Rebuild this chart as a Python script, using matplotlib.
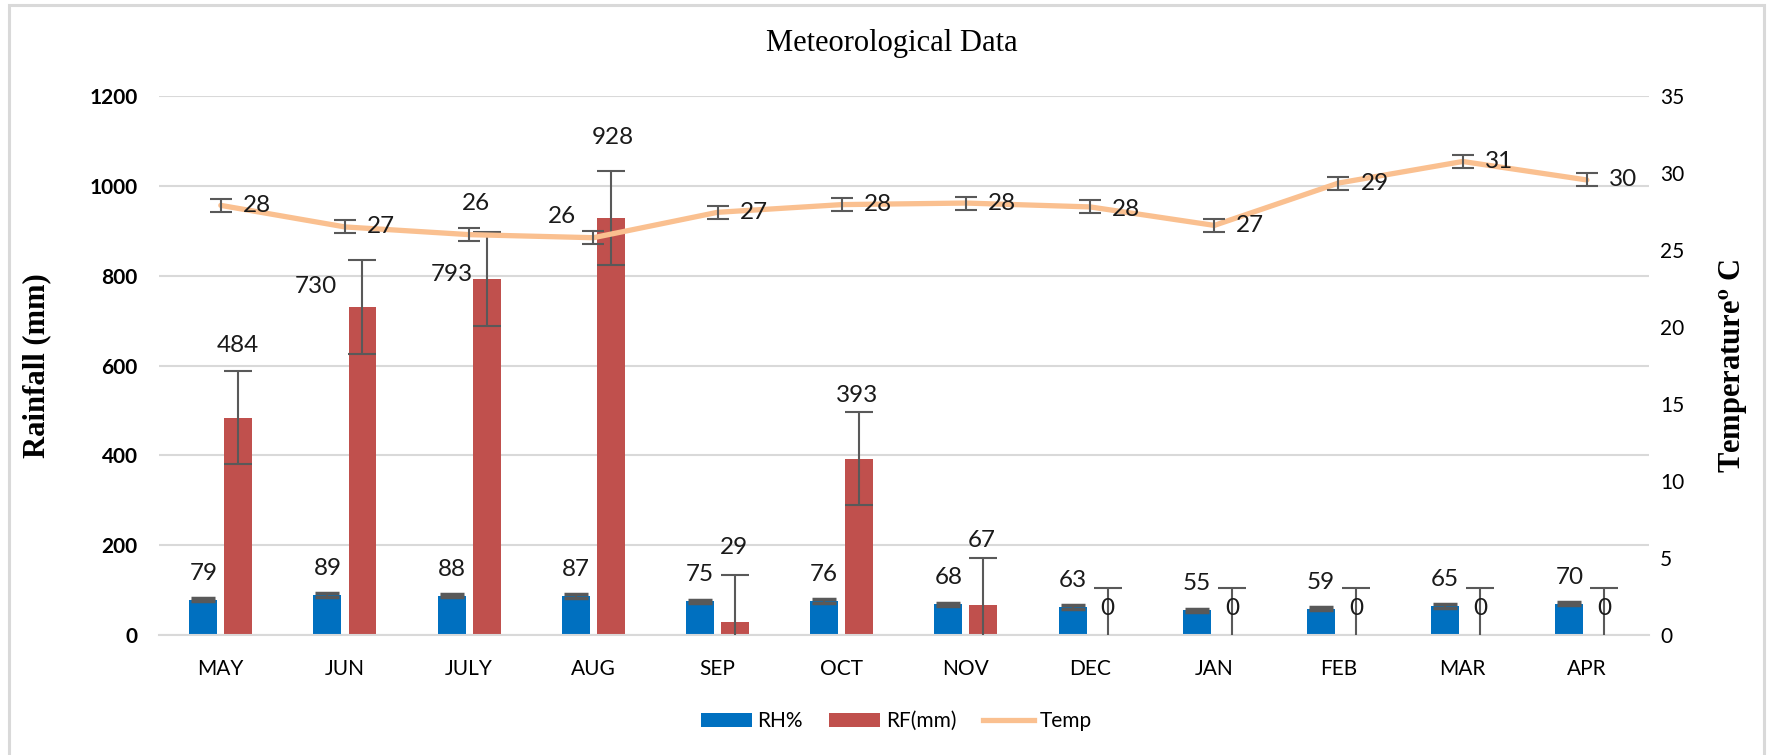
import numpy as np
import matplotlib
matplotlib.use("Agg")
import matplotlib.pyplot as plt
from matplotlib.patches import Rectangle
from matplotlib.lines import Line2D
from matplotlib.patches import Patch

months = ["MAY", "JUN", "JULY", "AUG", "SEP", "OCT", "NOV", "DEC", "JAN", "FEB", "MAR", "APR"]
rh = [79, 89, 88, 87, 75, 76, 68, 63, 55, 59, 65, 70]
rf = [484, 730, 793, 928, 29, 393, 67, 0, 0, 0, 0, 0]
temp = [27.9, 26.5, 26.0, 25.8, 27.45, 27.95, 28.05, 27.8, 26.6, 29.35, 30.75, 29.55]
rh_err = 4
rf_err = 104
temp_err = 0.42

# label offsets in pixels (dx, dy up), dpi=100
rf_off = [(0, 72), (-47, 21), (-35, 4), (2, 81), (-1, 75), (-2, 63), (-2, 64),
          (0, 27), (0, 27), (0, 27), (0, 27), (0, 27)]
temp_off = [(36, 0), (36, 0), (7, 31), (-31, 21), (36, 0), (36, 0), (36, 0),
            (36, -3), (36, 0), (36, 0), (36, 0), (36, 0)]

blue = "#0070C0"
red = "#C0504D"
orange = "#FAC090"
errc = "#595959"
grid = "#D9D9D9"
sans = "Lato"
serif = "Liberation Serif"
plt.rcParams["mathtext.fontset"] = "stix"

def px(v):
    return v * 0.72

fig = plt.figure(figsize=(17.71, 7.55), dpi=100)
ax = fig.add_axes([0.0896, 0.1589, 0.8415, 0.7139])
ax2 = ax.twinx()

x = np.arange(len(months))
w = 0.225
off = 0.141

ax.bar(x - off, rh, w, color=blue, zorder=2)
ax.bar(x + off, rf, w, color=red, zorder=2)
ax.errorbar(x - off, rh, yerr=rh_err, fmt="none", ecolor=errc, elinewidth=1.5,
            capsize=8.5, capthick=2.5, zorder=3)
ax.errorbar(x + off, rf, yerr=rf_err, fmt="none", ecolor=errc, elinewidth=1.5,
            capsize=10, capthick=1.5, zorder=3)

ax.set_xlim(-0.5, len(months) - 0.5)
ax.set_ylim(0, 1200)
ax.set_yticks(np.arange(0, 1201, 200))
ax.set_xticks(x)
ax.set_xticklabels(months, fontsize=15, family=sans)
for t in ax.get_yticklabels():
    t.set_fontsize(15)
    t.set_family(sans)
    t.set_fontweight("bold")
ax.tick_params(axis="both", length=0)
ax.tick_params(axis="x", pad=17)
ax.tick_params(axis="y", pad=15)
ax.grid(axis="y", color=grid, linewidth=1.5, zorder=0)
ax.set_axisbelow(True)
for s in ["top", "left", "right"]:
    ax.spines[s].set_visible(False)
ax.spines["bottom"].set_color(grid)
ax.spines["bottom"].set_linewidth(1.5)

ax2.plot(x, temp, color=orange, linewidth=3.8, solid_capstyle="round", zorder=2)
ax2.errorbar(x, temp, yerr=temp_err, fmt="none", ecolor=errc, elinewidth=1.5,
             capsize=8, capthick=1.5, zorder=3)
ax2.set_ylim(0, 35)
ax2.set_yticks(np.arange(0, 36, 5))
for t in ax2.get_yticklabels():
    t.set_fontsize(15)
    t.set_family(sans)
ax2.tick_params(axis="y", length=0, pad=8)
for s in ax2.spines.values():
    s.set_visible(False)

# data labels
for i in range(len(months)):
    ax.annotate(str(rh[i]), (x[i] - off, rh[i]), xytext=(0, px(26.5)),
                textcoords="offset points", ha="center", va="center",
                fontsize=17.5, family=sans, color="#1a1a1a", zorder=4)
    dx, dy = rf_off[i]
    ax.annotate(str(rf[i]), (x[i] + off, rf[i]), xytext=(px(dx), px(dy)),
                textcoords="offset points", ha="center", va="center",
                fontsize=17.5, family=sans, color="#1a1a1a", zorder=4)
    dx, dy = temp_off[i]
    ax2.annotate(str(int(round(temp[i] + 1e-9))), (x[i], temp[i]), xytext=(px(dx), px(dy)),
                 textcoords="offset points", ha="center", va="center",
                 fontsize=17.5, family=sans, color="#1a1a1a", zorder=4)

ax.set_ylabel("Rainfall (mm)", fontsize=22, family=serif, fontweight="bold")
ax.yaxis.set_label_coords(-0.0722, 0.5)
ax2.set_ylabel(r"Temperature$^{\mathbf{o}}$ C", fontsize=22, family=serif,
               fontweight="bold", rotation=90)
ax2.yaxis.set_label_coords(1.046, 0.5)

fig.text(0.5035, 0.943, "Meteorological Data", fontsize=22, family=serif,
         ha="center", va="center")

handles = [Patch(facecolor=blue), Patch(facecolor=red),
           Line2D([0], [0], color=orange, linewidth=3.8)]
fig.legend(handles, ["RH%", "RF(mm)", "Temp"], loc="center", ncol=3,
           bbox_to_anchor=(0.506, 0.045), frameon=False,
           prop={"family": sans, "size": 15}, handlelength=2.45,
           handleheight=0.67, handletextpad=0.25, columnspacing=1.3)

fig.patches.append(Rectangle((0.005, -0.02), 0.991, 1.0134, transform=fig.transFigure,
                             fill=False, edgecolor=grid, linewidth=2.2))

fig.savefig("out.png", dpi=100)
